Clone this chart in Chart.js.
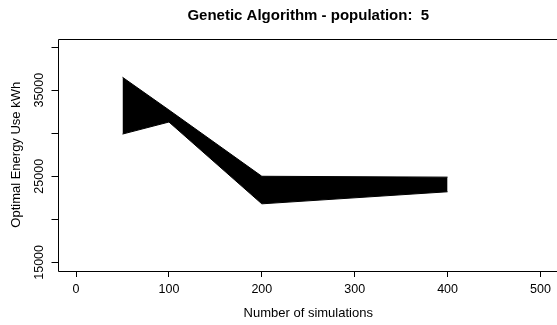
<!DOCTYPE html>
<html>
<head>
<meta charset="utf-8">
<script src="https://cdn.jsdelivr.net/npm/chart.js@4/dist/chart.umd.min.js"></script>
<style>
html,body{margin:0;padding:0;background:#fff;overflow:hidden;}
#wrap{width:559px;height:325px;}
</style>
</head>
<body>
<div id="wrap"><canvas id="c" width="559" height="325"></canvas></div>
<script>
// ---- data ----
const simulations = [50, 100, 200, 400];
const upperEnergy = [36500, 32700, 25000, 24900];
const lowerEnergy = [29900, 31300, 21800, 23200];
const xTicks = [0, 100, 200, 300, 400, 500];
const yTicks = [15000, 20000, 25000, 30000, 35000, 40000];
const yLabeledTicks = [15000, 25000, 35000];
const titleText = 'Genetic Algorithm - population:  5';
const xTitle = 'Number of simulations';
const yTitle = 'Optimal Energy Use kWh';

const FONT = "'Liberation Sans', Arial, Helvetica, sans-serif";

const toPts = (xs, ys) => xs.map((x, i) => ({x: x, y: ys[i]}));

const boxAndLabels = {
  id: 'boxAndLabels',
  afterDraw(chart) {
    const ctx = chart.ctx;
    const a = chart.chartArea;
    ctx.save();
    ctx.strokeStyle = '#000';
    ctx.lineWidth = 1;
    const l = Math.round(a.left) + 0.5, t = Math.round(a.top) + 0.5;
    const r = Math.round(a.right) + 0.5, b = Math.round(a.bottom) + 0.5;
    ctx.beginPath();
    ctx.moveTo(r, t); ctx.lineTo(l, t); ctx.lineTo(l, b); ctx.lineTo(r, b);
    ctx.stroke();
    // rotated y tick labels
    const ys = chart.scales.y;
    ctx.fillStyle = '#000';
    ctx.font = '12.5px ' + FONT;
    ctx.textAlign = 'center';
    ctx.textBaseline = 'middle';
    yLabeledTicks.forEach(v => {
      const py = ys.getPixelForValue(v);
      ctx.save();
      ctx.translate(40, py);
      ctx.rotate(-Math.PI / 2);
      ctx.fillText(String(v), 0, 0);
      ctx.restore();
    });
    ctx.restore();
  }
};

new Chart(document.getElementById('c'), {
  type: 'line',
  data: {
    datasets: [
      {
        label: 'upper',
        data: toPts(simulations, upperEnergy),
        borderColor: '#000',
        borderWidth: 1,
        pointRadius: 0,
        fill: false,
        tension: 0
      },
      {
        label: 'lower',
        data: toPts(simulations, lowerEnergy),
        borderColor: '#000',
        borderWidth: 1,
        pointRadius: 0,
        backgroundColor: '#000',
        fill: '-1',
        tension: 0
      }
    ]
  },
  options: {
    responsive: false,
    animation: false,
    events: [],
    layout: {padding: {left: 0, right: 0, top: 0, bottom: 0}},
    plugins: {
      legend: {display: false},
      tooltip: {enabled: false},
      title: {
        display: true,
        text: titleText,
        fullSize: false,
        color: '#000',
        font: {family: FONT, size: 15, weight: 'bold', lineHeight: 1.2},
        padding: {top: 7, bottom: 13.5}
      }
    },
    scales: {
      x: {
        type: 'linear',
        min: -20,
        max: 520,
        afterBuildTicks: s => { s.ticks = xTicks.map(v => ({value: v})); },
        afterFit: s => { s.height = 54; },
        border: {display: false},
        grid: {drawOnChartArea: false, drawTicks: true, tickLength: 6, color: '#000', lineWidth: 1},
        ticks: {
          color: '#000',
          font: {family: FONT, size: 12.5},
          padding: 5,
          maxRotation: 0,
          autoSkip: false,
          callback: v => String(v)
        },
        title: {
          display: true,
          text: xTitle,
          color: '#000',
          font: {family: FONT, size: 13},
          padding: {top: 0, bottom: 4}
        }
      },
      y: {
        type: 'linear',
        min: 14000,
        max: 41000,
        afterBuildTicks: s => { s.ticks = yTicks.map(v => ({value: v})); },
        afterFit: s => { s.width = 57.5; },
        border: {display: false},
        grid: {drawOnChartArea: false, drawTicks: true, tickLength: 6, color: '#000', lineWidth: 1},
        ticks: {display: false},
        title: {
          display: true,
          text: yTitle,
          color: '#000',
          font: {family: FONT, size: 13},
          padding: {top: 9, bottom: 0}
        }
      }
    }
  },
  plugins: [boxAndLabels]
});
</script>
</body>
</html>
